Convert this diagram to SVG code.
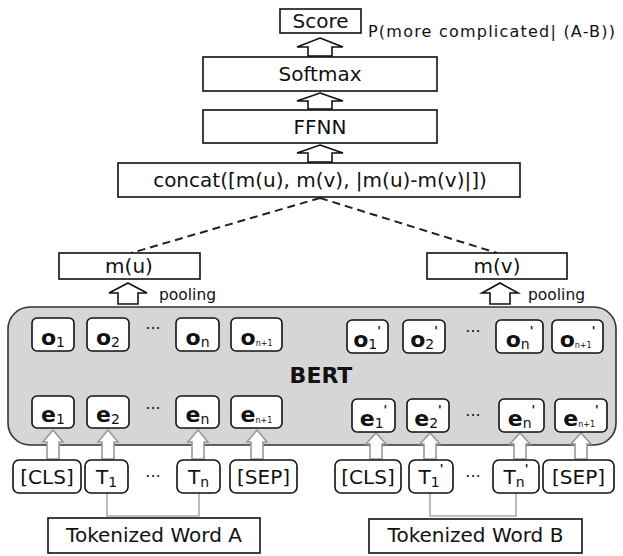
<svg xmlns="http://www.w3.org/2000/svg" width="623" height="556" viewBox="0 0 623 556">
<style>
text{font-family:"DejaVu Sans","Liberation Sans",sans-serif;fill:#111;}
.box{fill:#fff;stroke:#111;stroke-width:1.6;}
.sb{fill:#fff;stroke:#111;stroke-width:1.6;}
.arr{fill:#fff;stroke:#111;stroke-width:1.6;stroke-linejoin:miter;}
.garr{fill:#fff;stroke:#999;stroke-width:1.6;}
.t20{font-size:20px;text-anchor:middle;}
.lab{font-size:22px;font-weight:bold;text-anchor:middle;}
.tok{font-size:20px;text-anchor:middle;}
.dots{font-size:16px;text-anchor:middle;}
.sub{font-size:14px;font-weight:normal;}
.tiny{font-size:8px;font-weight:normal;}
.pr{font-size:12px;font-weight:bold;}
.dash{fill:none;stroke:#222;stroke-width:2;stroke-dasharray:8 5;}
.brk{fill:none;stroke:#aaa;stroke-width:1.6;}
</style>

<g id="connectors">
  <line class="dash" x1="320" y1="198" x2="131" y2="253"/>
  <line class="dash" x1="320" y1="198" x2="497" y2="253"/>
  <path class="arr" d="M320 38 L343 47 L332 47 L332 56 L308 56 L308 47 L297 47 Z"/>
  <path class="arr" d="M320 93 L343 101 L332 101 L332 109 L308 109 L308 101 L297 101 Z"/>
  <path class="arr" d="M320 145 L343 153 L332 153 L332 162 L308 162 L308 153 L297 153 Z"/>
  <path class="arr" d="M128 283 L147 293 L138 293 L138 304 L118 304 L118 293 L109 293 Z"/>
  <path class="arr" d="M500 283 L518 293 L510 293 L510 304 L490 304 L490 293 L482 293 Z"/>
  <path class="brk" d="M107 493 V516 H199 V493"/>
  <path class="brk" d="M430 493 V516 H516 V493"/>
</g>

<g id="bert">
  <rect x="8" y="307" width="608" height="138" rx="22" fill="#d6d6d6" stroke="#333" stroke-width="1.6"/>
  <text x="321" y="383" style="font-size:22px;font-weight:bold;text-anchor:middle;">BERT</text>
</g>

<g id="token-arrows">
  <path class="garr" d="M53 430 L63 442 L59 442 L59 459 L47 459 L47 442 L43 442 Z"/>
  <path class="garr" d="M108 430 L118 442 L114 442 L114 459 L102 459 L102 442 L98 442 Z"/>
  <path class="garr" d="M198 430 L208 442 L204 442 L204 459 L192 459 L192 442 L188 442 Z"/>
  <path class="garr" d="M257 430 L267 442 L263 442 L263 459 L251 459 L251 442 L247 442 Z"/>
  <path class="garr" d="M376 433 L386 444 L382 444 L382 459 L370 459 L370 444 L366 444 Z"/>
  <path class="garr" d="M430 433 L440 444 L436 444 L436 459 L424 459 L424 444 L420 444 Z"/>
  <path class="garr" d="M520 433 L530 444 L526 444 L526 459 L514 459 L514 444 L510 444 Z"/>
  <path class="garr" d="M581 433 L591 444 L587 444 L587 459 L575 459 L575 444 L571 444 Z"/>
</g>

<g id="score">
  <rect class="box" x="280" y="9" width="81" height="24"/>
  <text class="t20" x="320.5" y="28">Score</text>
  <text x="368" y="37" style="font-size:16px;" textLength="247" lengthAdjust="spacing">P(more complicated| (A-B))</text>
</g>
<g id="softmax">
  <rect class="box" x="203" y="57" width="234" height="34"/>
  <text class="t20" x="320" y="81">Softmax</text>
</g>
<g id="ffnn">
  <rect class="box" x="203" y="110" width="234" height="33"/>
  <text class="t20" x="320" y="134">FFNN</text>
</g>
<g id="concat">
  <rect class="box" x="118" y="163" width="402" height="34"/>
  <text class="t20" x="320" y="187">concat([m(u), m(v), |m(u)-m(v)|])</text>
</g>
<g id="mu">
  <rect class="box" x="59" y="253" width="141" height="26"/>
  <text class="t20" x="129" y="273">m(u)</text>
  <text x="159" y="300" style="font-size:15.5px;">pooling</text>
</g>
<g id="mv">
  <rect class="box" x="427" y="253" width="140" height="26"/>
  <text class="t20" x="497" y="273">m(v)</text>
  <text x="528" y="300" style="font-size:15.5px;">pooling</text>
</g>

<g id="outputs-a">
  <rect class="sb" x="32" y="318" width="42" height="33" rx="5"/>
  <text class="lab" x="53" y="345">o<tspan class="sub" dy="2">1</tspan></text>
  <rect class="sb" x="87" y="318" width="42" height="33" rx="5"/>
  <text class="lab" x="108" y="345">o<tspan class="sub" dy="2">2</tspan></text>
  <text class="dots" x="153" y="334">···</text>
  <rect class="sb" x="176" y="318" width="43" height="33" rx="5"/>
  <text class="lab" x="197.5" y="345">o<tspan class="sub" dy="2">n</tspan></text>
  <rect class="sb" x="231" y="318" width="51" height="33" rx="5"/>
  <text class="lab" x="256.5" y="345">o<tspan class="tiny" dy="1">n+1</tspan></text>
</g>
<g id="embeddings-a">
  <rect class="sb" x="32" y="396" width="42" height="32" rx="5"/>
  <text class="lab" x="53" y="422">e<tspan class="sub" dy="2">1</tspan></text>
  <rect class="sb" x="87" y="396" width="42" height="32" rx="5"/>
  <text class="lab" x="108" y="422">e<tspan class="sub" dy="2">2</tspan></text>
  <text class="dots" x="153" y="414">···</text>
  <rect class="sb" x="176" y="396" width="43" height="32" rx="5"/>
  <text class="lab" x="197.5" y="422">e<tspan class="sub" dy="2">n</tspan></text>
  <rect class="sb" x="231" y="396" width="51" height="32" rx="5"/>
  <text class="lab" x="256.5" y="422">e<tspan class="tiny" dy="1">n+1</tspan></text>
</g>

<g id="outputs-b">
  <rect class="sb" x="347" y="320" width="41" height="33" rx="5"/>
  <text class="lab" x="367" y="347">o<tspan class="sub" dy="2">1</tspan><tspan class="pr" dy="-14">'</tspan></text>
  <rect class="sb" x="403" y="320" width="42" height="33" rx="5"/>
  <text class="lab" x="424" y="347">o<tspan class="sub" dy="2">2</tspan><tspan class="pr" dy="-14">'</tspan></text>
  <text class="dots" x="473" y="337">···</text>
  <rect class="sb" x="496" y="320" width="47" height="33" rx="5"/>
  <text class="lab" x="519.5" y="347">o<tspan class="sub" dy="2">n</tspan><tspan class="pr" dy="-14">'</tspan></text>
  <rect class="sb" x="552" y="320" width="51" height="33" rx="5"/>
  <text class="lab" x="577.5" y="347">o<tspan class="tiny" dy="1">n+1</tspan><tspan class="pr" dy="-13">'</tspan></text>
</g>
<g id="embeddings-b">
  <rect class="sb" x="352" y="399" width="43" height="33" rx="5"/>
  <text class="lab" x="373.5" y="426">e<tspan class="sub" dy="2">1</tspan><tspan class="pr" dy="-14">'</tspan></text>
  <rect class="sb" x="407" y="399" width="42" height="33" rx="5"/>
  <text class="lab" x="428" y="426">e<tspan class="sub" dy="2">2</tspan><tspan class="pr" dy="-14">'</tspan></text>
  <text class="dots" x="473" y="421">···</text>
  <rect class="sb" x="499" y="399" width="45" height="33" rx="5"/>
  <text class="lab" x="521.5" y="426">e<tspan class="sub" dy="2">n</tspan><tspan class="pr" dy="-14">'</tspan></text>
  <rect class="sb" x="555" y="399" width="52" height="33" rx="5"/>
  <text class="lab" x="581" y="426">e<tspan class="tiny" dy="1">n+1</tspan><tspan class="pr" dy="-13">'</tspan></text>
</g>

<g id="tokens-a">
  <rect class="sb" x="13" y="460" width="68" height="33" rx="6"/>
  <text class="tok" x="47" y="484">[CLS]</text>
  <rect class="sb" x="85" y="460" width="43" height="33" rx="6"/>
  <text class="tok" x="106.5" y="484">T<tspan class="sub" dy="3">1</tspan></text>
  <text class="dots" x="153" y="482">···</text>
  <rect class="sb" x="177" y="460" width="43" height="33" rx="6"/>
  <text class="tok" x="198.5" y="484">T<tspan class="sub" dy="3">n</tspan></text>
  <rect class="sb" x="230" y="460" width="67" height="33" rx="6"/>
  <text class="tok" x="263.5" y="484">[SEP]</text>
</g>
<g id="tokens-b">
  <rect class="sb" x="335" y="460" width="66" height="33" rx="6"/>
  <text class="tok" x="368" y="484">[CLS]</text>
  <rect class="sb" x="409" y="460" width="44" height="33" rx="6"/>
  <text class="tok" x="431" y="484">T<tspan class="sub" dy="3">1</tspan><tspan class="pr" dy="-14">'</tspan></text>
  <text class="dots" x="473" y="482">···</text>
  <rect class="sb" x="493" y="460" width="46" height="33" rx="6"/>
  <text class="tok" x="516" y="484">T<tspan class="sub" dy="3">n</tspan><tspan class="pr" dy="-14">'</tspan></text>
  <rect class="sb" x="543" y="460" width="71" height="33" rx="6"/>
  <text class="tok" x="578.5" y="484">[SEP]</text>
</g>

<g id="word-a">
  <rect class="box" x="48" y="518" width="212" height="35"/>
  <text class="t20" x="154" y="542">Tokenized Word A</text>
</g>
<g id="word-b">
  <rect class="box" x="369" y="519" width="213" height="34"/>
  <text class="t20" x="475.5" y="542">Tokenized Word B</text>
</g>
</svg>
